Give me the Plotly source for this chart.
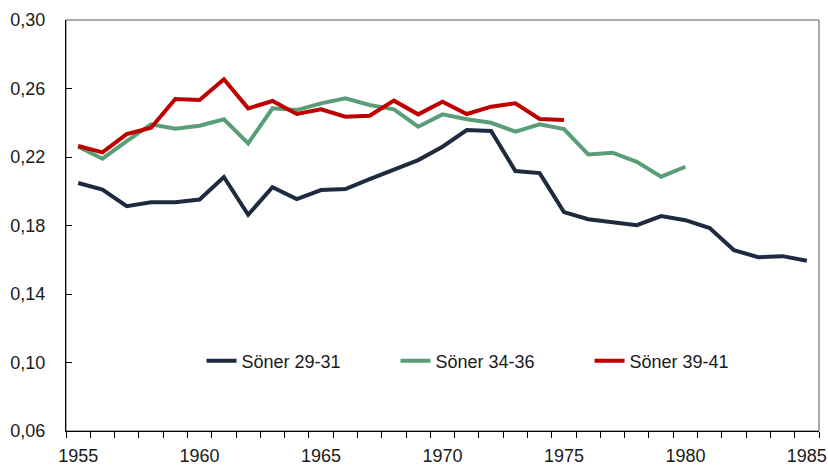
import plotly.graph_objects as go

years_29 = list(range(1955, 1986))
soner_29_31 = [0.2048, 0.2010, 0.1913, 0.1936, 0.1936, 0.1952, 0.2083, 0.1863,
               0.2024, 0.1954, 0.2007, 0.2013, 0.2071, 0.2126, 0.2182, 0.2260,
               0.2357, 0.2352, 0.2118, 0.2106, 0.1878, 0.1837, 0.1820, 0.1802,
               0.1855, 0.1831, 0.1785, 0.1656, 0.1615, 0.1621, 0.1594]

years_34 = list(range(1955, 1981))
soner_34_36 = [0.2260, 0.2190, 0.2293, 0.2391, 0.2365, 0.2383, 0.2420, 0.2280,
               0.2484, 0.2474, 0.2513, 0.2543, 0.2504, 0.2478, 0.2377, 0.2449,
               0.2420, 0.2400, 0.2348, 0.2391, 0.2363, 0.2215, 0.2225, 0.2172,
               0.2085, 0.2143]

years_39 = list(range(1955, 1976))
soner_39_41 = [0.2264, 0.2227, 0.2334, 0.2371, 0.2539, 0.2533, 0.2654, 0.2484,
               0.2527, 0.2451, 0.2478, 0.2435, 0.2441, 0.2529, 0.2449, 0.2523,
               0.2451, 0.2494, 0.2514, 0.2422, 0.2416]

series_names = ["Söner 29-31", "Söner 34-36", "Söner 39-41"]
series_colors = ["#1e2b3f", "#5a9e79", "#c00000"]

x_label_vals = [1955, 1960, 1965, 1970, 1975, 1980, 1985]
x_label_text = [str(v) for v in x_label_vals]
y_tick_vals = [0.06, 0.10, 0.14, 0.18, 0.22, 0.26, 0.30]

FONT = "Liberation Sans, Arial, sans-serif"

fig = go.Figure()
for xs, ys, name, col in zip([years_29, years_34, years_39],
                             [soner_29_31, soner_34_36, soner_39_41],
                             series_names, series_colors):
    fig.add_trace(go.Scatter(x=xs, y=ys, name=name, mode="lines",
                             line=dict(color=col, width=4)))

fig.update_layout(
    width=828, height=466,
    margin=dict(l=66, r=9, t=20, b=35, autoexpand=False),
    plot_bgcolor="white", paper_bgcolor="white",
    separators=",.",
    font=dict(family=FONT, size=18, color="#1a1a1a"),
    showlegend=True,
    legend=dict(orientation="h", x=0.180, xanchor="left", y=0.17, yanchor="middle",
                bgcolor="rgba(0,0,0,0)", font=dict(size=18, family=FONT), itemwidth=30,
                traceorder="normal", entrywidth=149),
    xaxis=dict(range=[1954.5, 1985.5], tickmode="array", tickvals=x_label_vals,
               ticktext=x_label_text, ticks="", showgrid=False, zeroline=False,
               showline=True, linecolor="black", linewidth=1, automargin=False,
               ticklabelstandoff=8, tickfont=dict(family=FONT, size=18),
               minor=dict(tick0=1954.5, dtick=1, ticks="outside", ticklen=6,
                          tickcolor="black", tickwidth=1, showgrid=False)),
    xaxis2=dict(range=[1954.5, 1985.5], overlaying="x", anchor="y", side="bottom",
                tick0=1954.5, dtick=1, ticks="inside", ticklen=6, tickcolor="black",
                showticklabels=False, showgrid=False, zeroline=False, showline=False,
                automargin=False),
    yaxis=dict(range=[0.06, 0.30], tickmode="array", tickvals=y_tick_vals,
               tickformat=".2f", ticks="inside", ticklen=6, tickcolor="black",
               showgrid=False, zeroline=False, showline=True, linecolor="black",
               linewidth=1, ticklabelstandoff=16, automargin=False,
               tickfont=dict(family=FONT, size=18)),
)
fig.add_shape(type="rect", xref="paper", yref="paper", x0=0, y0=0, x1=1, y1=1,
              line=dict(color="#595959", width=1), layer="below")

fig.write_html("out.html", config={"displayModeBar": False},
               post_script="document.body.style.margin='0';document.body.style.overflow='hidden';")
